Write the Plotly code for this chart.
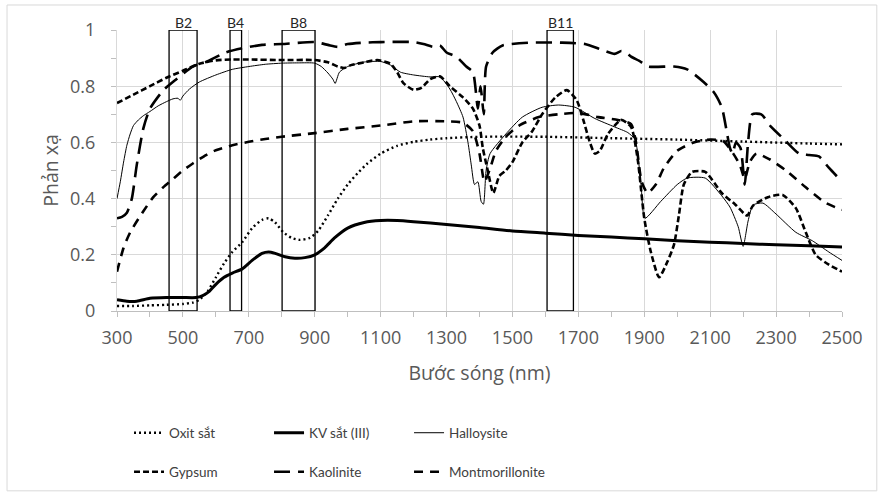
import plotly.graph_objects as go

# ---------------- data ----------------
oxit_x = [300, 350, 400, 450, 500, 530, 550, 575, 600, 625, 650, 680, 710, 740, 760, 780, 805, 830,
          855, 885, 910, 940, 970, 1000, 1030, 1060, 1100, 1150, 1200, 1250, 1300, 1400, 1600, 1800,
          2000, 2200, 2400, 2500]
oxit_y = [0.018, 0.018, 0.02, 0.022, 0.025, 0.03, 0.04, 0.07, 0.12, 0.17, 0.21, 0.245, 0.295, 0.324,
          0.33, 0.315, 0.28, 0.26, 0.253, 0.26, 0.285, 0.34, 0.40, 0.45, 0.49, 0.525, 0.56, 0.588, 0.602,
          0.61, 0.615, 0.62, 0.62, 0.615, 0.61, 0.603, 0.596, 0.593]

kv_x = [300, 330, 360, 400, 450, 500, 540, 560, 580, 600, 625, 650, 680, 710, 740, 760, 780, 810, 840,
        870, 900, 930, 960, 1000, 1050, 1100, 1150, 1200, 1300, 1400, 1500, 1600, 1700, 1800, 1900,
        2000, 2100, 2200, 2300, 2400, 2500]
kv_y = [0.04, 0.035, 0.035, 0.045, 0.048, 0.048, 0.048, 0.055, 0.07, 0.095, 0.12, 0.135, 0.15, 0.18,
        0.205, 0.21, 0.205, 0.193, 0.188, 0.19, 0.2, 0.225, 0.26, 0.295, 0.315, 0.322, 0.322, 0.318,
        0.308, 0.297, 0.285, 0.277, 0.269, 0.263, 0.257, 0.25, 0.245, 0.24, 0.236, 0.232, 0.228]

hal_x = [300, 310, 320, 330, 340, 350, 365, 380, 400, 425, 450, 470, 485, 492, 500, 520, 550, 600, 650,
         700, 750, 800, 850, 900, 920, 940, 955, 962, 975, 1000, 1050, 1100, 1130, 1160, 1200, 1250,
         1280, 1310, 1330, 1350, 1365, 1375, 1385, 1395, 1405, 1412, 1420, 1432, 1480, 1530, 1590,
         1640, 1690, 1750, 1810, 1850, 1872, 1890, 1902, 1950, 2000, 2030, 2085, 2135, 2160, 2185,
         2200, 2215, 2230, 2260, 2300, 2360, 2410, 2460, 2500]
hal_y = [0.40, 0.46, 0.53, 0.59, 0.63, 0.66, 0.68, 0.695, 0.71, 0.73, 0.745, 0.755, 0.757, 0.75, 0.765,
         0.79, 0.815, 0.84, 0.86, 0.87, 0.878, 0.882, 0.883, 0.882, 0.87, 0.847, 0.825, 0.81, 0.85, 0.87,
         0.886, 0.888, 0.875, 0.85, 0.84, 0.833, 0.833, 0.79, 0.745, 0.69, 0.60, 0.52, 0.45, 0.46, 0.39,
         0.38, 0.50, 0.56, 0.63, 0.69, 0.725, 0.733, 0.725, 0.685, 0.655, 0.635, 0.61, 0.45, 0.33, 0.39,
         0.45, 0.473, 0.473, 0.41, 0.37, 0.30, 0.23, 0.32, 0.377, 0.384, 0.345, 0.28, 0.25, 0.21, 0.18]

gyp_x = [300, 350, 400, 450, 500, 550, 600, 650, 700, 800, 900, 940, 970, 990, 1010, 1050, 1090, 1130,
         1150, 1170, 1200, 1225, 1250, 1280, 1310, 1350, 1380, 1400, 1410, 1425, 1442, 1460, 1480, 1500,
         1530, 1560, 1590, 1630, 1665, 1695, 1715, 1735, 1750, 1765, 1790, 1830, 1860, 1880, 1900, 1920,
         1945, 1970, 1990, 2005, 2020, 2045, 2085, 2135, 2175, 2212, 2230, 2275, 2320, 2360, 2390, 2420,
         2460, 2500]
gyp_y = [0.74, 0.77, 0.80, 0.83, 0.855, 0.88, 0.892, 0.895, 0.895, 0.893, 0.893, 0.885, 0.87, 0.865,
         0.875, 0.885, 0.893, 0.88, 0.85, 0.81, 0.787, 0.795, 0.825, 0.835, 0.80, 0.76, 0.72, 0.66, 0.58,
         0.50, 0.42, 0.48, 0.50, 0.53, 0.60, 0.64, 0.70, 0.76, 0.786, 0.75, 0.68, 0.60, 0.56, 0.57, 0.63,
         0.68, 0.655, 0.54, 0.33, 0.21, 0.12, 0.175, 0.235, 0.34, 0.45, 0.495, 0.495, 0.42, 0.38, 0.34,
         0.375, 0.405, 0.413, 0.366, 0.28, 0.20, 0.165, 0.14]

kao_x = [300, 315, 330, 345, 360, 380, 400, 440, 480, 530, 570, 630, 680, 740, 800, 900, 940, 970, 1000,
         1050, 1100, 1200, 1230, 1260, 1280, 1300, 1330, 1360, 1380, 1395, 1403, 1413, 1420, 1440, 1470,
         1550, 1650, 1720, 1770, 1810, 1830, 1845, 1860, 1885, 1912, 1990, 2030, 2080, 2110, 2135, 2150,
         2160, 2168, 2178, 2192, 2205, 2215, 2228, 2255, 2285, 2325, 2370, 2400, 2430, 2460, 2500]
kao_y = [0.33, 0.335, 0.35, 0.40, 0.52, 0.65, 0.72, 0.785, 0.825, 0.87, 0.886, 0.92, 0.935, 0.947, 0.95,
         0.957, 0.947, 0.94, 0.95, 0.955, 0.957, 0.957, 0.95, 0.94, 0.945, 0.92, 0.905, 0.87, 0.85, 0.72,
         0.80, 0.70, 0.87, 0.92, 0.945, 0.955, 0.955, 0.95, 0.93, 0.915, 0.925, 0.92, 0.905, 0.89, 0.87,
         0.87, 0.86, 0.815, 0.78, 0.726, 0.64, 0.58, 0.56, 0.60, 0.58, 0.45, 0.60, 0.70, 0.70, 0.655, 0.61,
         0.56, 0.555, 0.55, 0.51, 0.46]

mon_x = [300, 320, 340, 380, 410, 440, 470, 500, 530, 570, 600, 650, 700, 750, 800, 900, 1000, 1100,
         1200, 1300, 1350, 1380, 1400, 1415, 1430, 1450, 1480, 1520, 1580, 1640, 1700, 1760, 1820, 1860,
         1875, 1892, 1910, 1935, 1960, 2000, 2050, 2100, 2140, 2170, 2190, 2205, 2220, 2240, 2280, 2330,
         2390, 2450, 2500]
mon_y = [0.14, 0.225, 0.28, 0.355, 0.405, 0.44, 0.47, 0.50, 0.525, 0.555, 0.572, 0.59, 0.602, 0.612,
         0.62, 0.633, 0.648, 0.66, 0.675, 0.675, 0.67, 0.64, 0.56, 0.46, 0.50, 0.57, 0.62, 0.66, 0.69,
         0.70, 0.705, 0.69, 0.68, 0.665, 0.60, 0.46, 0.42, 0.45, 0.51, 0.57, 0.60, 0.61, 0.605, 0.56,
         0.52, 0.47, 0.53, 0.56, 0.54, 0.50, 0.44, 0.385, 0.36]

band_names = ["B2", "B4", "B8", "B11"]
band_start = [458, 643, 801, 1605]
band_end = [543, 678, 901, 1685]

x_ticks = [300, 500, 700, 900, 1100, 1300, 1500, 1700, 1900, 2100, 2300, 2500]
y_ticks = [0, 0.2, 0.4, 0.6, 0.8, 1]
y_tick_labels = ["0", "0.2", "0.4", "0.6", "0.8", "1"]

# ---------------- figure ----------------
AXFONT = "Open Sans"
LGFONT = "Lato"
fig = go.Figure()

series = [
    ("Oxit sắt", oxit_x, oxit_y, dict(color="black", width=2.4, dash="2px,3px"), "legend"),
    ("KV sắt (III)", kv_x, kv_y, dict(color="black", width=3), "legend"),
    ("Halloysite", hal_x, hal_y, dict(color="black", width=1), "legend"),
    ("Gypsum", gyp_x, gyp_y, dict(color="black", width=2.6, dash="6px,3px"), "legend2"),
    ("Kaolinite", kao_x, kao_y, dict(color="black", width=2.6, dash="16px,8px"), "legend2"),
    ("Montmorillonite", mon_x, mon_y, dict(color="black", width=2.6, dash="9px,7px"), "legend2"),
]
for name, xs, ys, ln, lg in series:
    fig.add_trace(go.Scatter(x=xs, y=ys, name=name, mode="lines",
                             line=dict(shape="spline", smoothing=0.6, **ln),
                             legend=lg, hoverinfo="skip"))

for nm, x0, x1 in zip(band_names, band_start, band_end):
    fig.add_shape(type="rect", xref="x", yref="y", x0=x0, x1=x1, y0=0, y1=1,
                  line=dict(color="black", width=1.3), fillcolor="rgba(0,0,0,0)", layer="above")
    fig.add_annotation(x=(x0 + x1) / 2, y=1, xref="x", yref="paper", text=nm, showarrow=False,
                       yanchor="bottom", yshift=-3, font=dict(family=LGFONT, size=14, color="#262626"))

# outer chart border
fig.add_shape(type="rect", xref="paper", yref="paper", x0=-0.1517, x1=1.048, y0=-0.64, y1=1.089,
              line=dict(color="#d9d9d9", width=1), layer="below")

grid = "#d9d9d9"
lgd = dict(orientation="h", x=0.0166, xanchor="left", yanchor="middle",
           entrywidth=95, entrywidthmode="pixels", font=dict(family=LGFONT, size=13.5, color="#404040"),
           bgcolor="rgba(0,0,0,0)")
fig.update_layout(
    width=881, height=498,
    margin=dict(l=117, r=39, t=30, b=187, autoexpand=False),
    paper_bgcolor="white", plot_bgcolor="white",
    font=dict(family=AXFONT, size=16, color="#595959"),
    showlegend=True,
    legend=dict(y=-0.434, **lgd),
    legend2=dict(y=-0.573, **lgd),
    xaxis=dict(range=[300, 2500], tickvals=x_ticks, showgrid=True, gridcolor=grid, gridwidth=1,
               showline=True, linecolor="#bfbfbf", linewidth=1, ticks="outside", ticklen=5,
               tickcolor="#bfbfbf", zeroline=False, ticklabelstandoff=5,
               minor=dict(dtick=100, tick0=300, ticks="outside", ticklen=5, tickcolor="#bfbfbf",
                          showgrid=False),
               tickfont=dict(family=AXFONT, size=18, color="#595959"),
               title=dict(text="Bước sóng (nm)", font=dict(family=AXFONT, size=19.5, color="#595959"),
                          standoff=18)),
    yaxis=dict(range=[0, 1], tickvals=y_ticks, ticktext=y_tick_labels, showgrid=True, gridcolor=grid,
               gridwidth=1, showline=True, linecolor="#d9d9d9", zeroline=False,
               ticks="outside", ticklen=5, tickcolor="#bfbfbf", ticklabelstandoff=12,
               minor=dict(dtick=0.1, tick0=0, ticks="outside", ticklen=5, tickcolor="#bfbfbf",
                          showgrid=False),
               tickfont=dict(family=AXFONT, size=18, color="#595959"),
               title=dict(text="Phản xạ", font=dict(family=AXFONT, size=19.5, color="#595959"),
                          standoff=6)),
)

fig.write_html("out.html", config={"displayModeBar": False},
               post_script="document.body.style.margin='0px';")
